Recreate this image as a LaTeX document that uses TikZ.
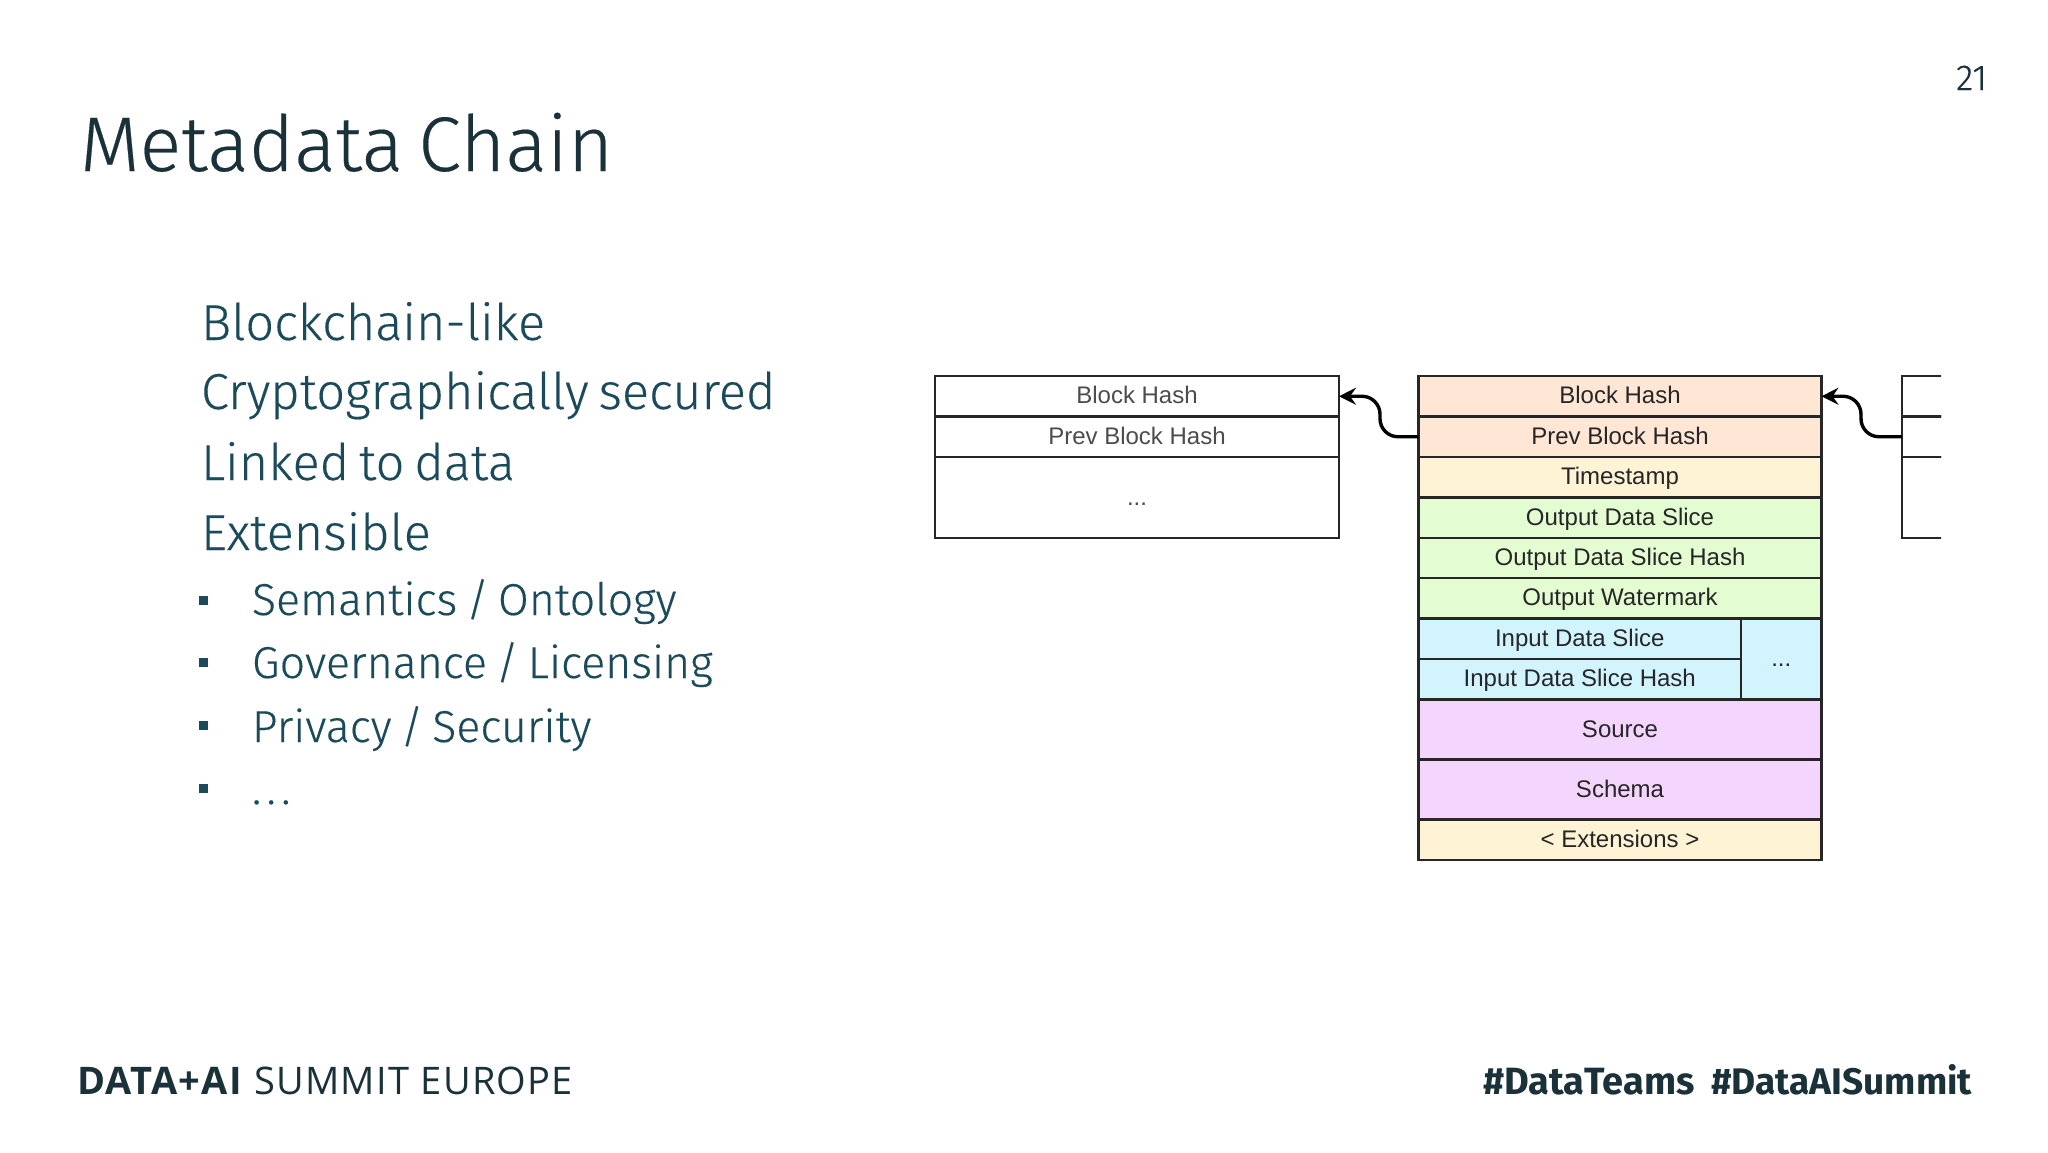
\documentclass[tikz,border=0pt]{standalone}
\usepackage{fontspec}
\usetikzlibrary{arrows.meta}
\setmainfont{Fira Sans}[UprightFont=* Light,WordSpace=0.7,FakeBold=0.25]
\newfontfamily\diagfont{Liberation Sans}
\newfontfamily\footfont{Fira Sans}[UprightFont=*,BoldFont=* Bold]
\newfontfamily\brandfont{Open Sans}[UprightFont=*,BoldFont=* Bold,LetterSpace=3.5]
\definecolor{inkdark}{HTML}{1B3139}
\definecolor{inkbody}{HTML}{1B4A5A}
\definecolor{cPeach}{HTML}{FFE6D5}
\definecolor{cCream}{HTML}{FFF3D6}
\definecolor{cGreen}{HTML}{E3FCD2}
\definecolor{cBlue}{HTML}{D2F4FF}
\definecolor{cPurple}{HTML}{F4D5FD}
\tikzset{
  x=1pt,y=-1pt,
  txt/.style={anchor=base west,inner sep=0pt,outer sep=0pt},
  titletext/.style={txt,text=inkdark,font=\fontsize{77.5}{80}\selectfont},
  bodytext/.style={txt,text=inkbody,font=\fontsize{50.5}{52}\selectfont},
  subtext/.style={txt,text=inkbody,font=\fontsize{44.7}{47}\selectfont},
  pagenum/.style={txt,text=inkdark,font=\fontsize{36}{38}\selectfont},
  foot/.style={txt,text=inkdark,font=\footfont\fontsize{37}{40}\selectfont},
  footwide/.style={foot,font=\footfont\fontsize{38}{40}\selectfont},
  brand/.style={txt,text=inkdark,font=\brandfont\fontsize{38}{40}\selectfont},
  bulletmark/.style={fill=inkbody,draw=none,minimum size=9pt,inner sep=0pt,outer sep=0pt},
  cell/.style args={#1/#2/#3}{draw=black!85,line width=2.4pt,fill=#3,anchor=north west,
    minimum width=#1,minimum height=#2,inner sep=0pt,outer sep=0pt,
    text height=18.5pt,text depth=3.5pt,
    text=black!85,font=\diagfont\fontsize{24}{26}\selectfont},
  greycell/.style args={#1/#2}{cell={#1/#2/white},text=black!70},
  link/.style={draw=black,line width=3.4pt,rounded corners=18pt,
    -{Stealth[length=17pt,width=17pt,inset=6pt]}},
}
\begin{document}
\begin{tikzpicture}
\useasboundingbox (0,0) rectangle (2048,1152);
\fill[white] (0,0) rectangle (2048,1152);
\node[titletext] (title) at (80,171) {Metadata Chain};
\node[pagenum] (page) at (1956,90) {21};
\node[bodytext] (b1) at (201,340) {Blockchain-like};
\node[bodytext] (b2) at (201,409) {Cryptographically secured};
\node[bodytext] (b3) at (201,480) {Linked to data};
\node[bodytext] (b4) at (201,550) {Extensible};
\node[subtext] (s1) at (252,615) {Semantics / Ontology};
\node[subtext] (s2) at (252,678) {Governance / Licensing};
\node[subtext] (s3) at (252,742) {Privacy / Security};
\node[subtext] (s4) at (252,804) {\addfontfeature{LetterSpace=12}...};
\node[bulletmark] (d1) at (203,600) {};
\node[bulletmark] (d2) at (203,662) {};
\node[bulletmark] (d3) at (203,725) {};
\node[bulletmark] (d4) at (203,788) {};
% left block
\node[greycell={404pt/40.5pt}] (lHash) at (935,376) {Block Hash};
\node[greycell={404pt/40.5pt}] (lPrev) at (935,416.5) {Prev Block Hash};
\node[greycell={404pt/81pt}] (lRest) at (935,457) {...};
% middle block
\node[cell={403pt/40.5pt/cPeach}] (mHash) at (1418.5,376) {Block Hash};
\node[cell={403pt/40.5pt/cPeach}] (mPrev) at (1418.5,416.5) {Prev Block Hash};
\node[cell={403pt/40.5pt/cCream}] (mTime) at (1418.5,457) {Timestamp};
\node[cell={403pt/40.5pt/cGreen}] (mOut) at (1418.5,497.5) {Output Data Slice};
\node[cell={403pt/40.5pt/cGreen}] (mOutH) at (1418.5,538) {Output Data Slice Hash};
\node[cell={403pt/40.5pt/cGreen}] (mWm) at (1418.5,578) {Output Watermark};
\node[cell={322.5pt/40.5pt/cBlue}] (mIn) at (1418.5,618.5) {Input Data Slice};
\node[cell={322.5pt/40.5pt/cBlue}] (mInH) at (1418.5,659) {Input Data Slice Hash};
\node[cell={80.5pt/81pt/cBlue}] (mMore) at (1741,618.5) {...};
\node[cell={403pt/60pt/cPurple}] (mSrc) at (1418.5,699.5) {Source};
\node[cell={403pt/60pt/cPurple}] (mSch) at (1418.5,759.5) {Schema};
\node[cell={403pt/40.5pt/cCream}] (mExt) at (1418.5,819.5) {< Extensions >};
% right block, cut off by the slide
\begin{scope}
\clip (1890,360) rectangle (1941,560);
\node[greycell={404pt/40.5pt}] (rHash) at (1902,376) {};
\node[greycell={404pt/40.5pt}] (rPrev) at (1902,416.5) {};
\node[greycell={404pt/81pt}] (rRest) at (1902,457) {};
\end{scope}
% connectors
\coordinate (bendA) at (1380,416);
\coordinate (bendB) at (1861,416);
\draw[link] (mPrev.west) -- (bendA |- mPrev.west) -- (bendA |- lHash.east) -- (lHash.east);
\draw[link] (rPrev.west) -- (bendB |- rPrev.west) -- (bendB |- mHash.east) -- (mHash.east);
% footer
\node[brand] (f1) at (77,1094) {\bfseries DATA+AI};
\node[brand] (f2) at (254,1094) {SUMMIT EUROPE};
\node[footwide] (f3) at (1483,1094) {\bfseries \#DataTeams};
\node[foot] (f4) at (1711,1094) {\bfseries \#DataAISummit};
\end{tikzpicture}
\end{document}
